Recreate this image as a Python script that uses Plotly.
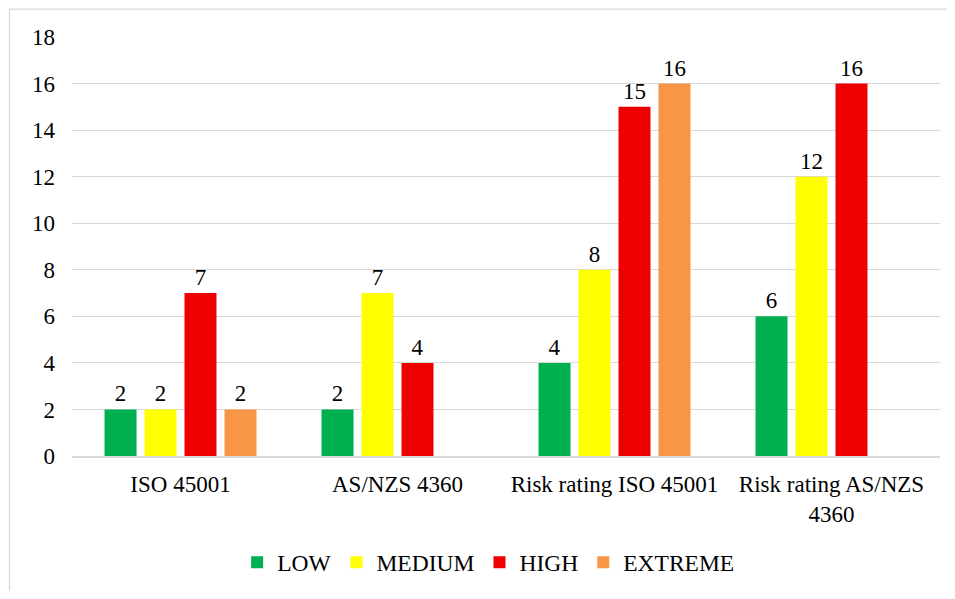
import plotly.graph_objects as go

categories = ["ISO 45001", "AS/NZS 4360", "Risk rating ISO 45001", "Risk rating AS/NZS<br>4360"]
low = [2, 2, 4, 6]
medium = [2, 7, 8, 12]
high = [7, 4, 15, 16]
extreme = [2, None, 16, None]
series_names = ["LOW", "MEDIUM", "HIGH", "EXTREME"]
y_ticks = [0, 2, 4, 6, 8, 10, 12, 14, 16, 18]

colors = ["#00B050", "#FFFF00", "#EE0000", "#F79646"]
FONT = "Liberation Serif"
FS = 23

fig = go.Figure()
for name, vals, col in zip(series_names, [low, medium, high, extreme], colors):
    fig.add_trace(go.Bar(
        x=categories, y=vals, name=name, marker_color=col, marker_line_width=0,
        text=[("" if v is None else str(v)) for v in vals],
        textposition="outside", cliponaxis=False,
        textfont=dict(family=FONT, size=FS, color="#000000"),
    ))

# page body has an 8px default margin; figure sized to fit the window
OFF = 8
W, H = 955 - 2 * OFF, 599 - 2 * OFF
L, T = 72 - OFF, 37 - OFF
R = W - (940 - OFF)
B = H - (462 - OFF)
pw, ph = W - L - R, H - T - B

fig.update_layout(
    width=W, height=H,
    margin=dict(l=L, r=R, t=T, b=B, pad=0),
    paper_bgcolor="white", plot_bgcolor="white",
    barmode="group", bargap=0.263, bargroupgap=0.2,
    font=dict(family=FONT, size=FS, color="#000000"),
    showlegend=True,
    legend=dict(orientation="h", x=0.48, xanchor="center", y=(462 - 570) / ph, yanchor="middle",
                font=dict(family=FONT, size=23.5, color="#000000"), traceorder="normal"),
    xaxis=dict(showgrid=False, showline=True, linecolor="#D9D9D9", linewidth=1.5,
               ticks="", ticklabelstandoff=7, tickfont=dict(family=FONT, size=FS), automargin=False),
    yaxis=dict(range=[0, 18], tickvals=y_ticks, showgrid=True, gridcolor="#D9D9D9", gridwidth=1,
               zeroline=False, showline=False, ticks="", ticklabelstandoff=16,
               tickfont=dict(family=FONT, size=FS), automargin=False),
    shapes=[dict(type="rect", xref="paper", yref="paper",
                 x0=(1.5 - L) / pw, x1=1 + (R + 20) / pw,
                 y0=-(B + 20) / ph, y1=1 + (T - 0.7) / ph,
                 line=dict(color="#D9D9D9", width=1.3), layer="below")],
)

fig.write_html("out.html")
